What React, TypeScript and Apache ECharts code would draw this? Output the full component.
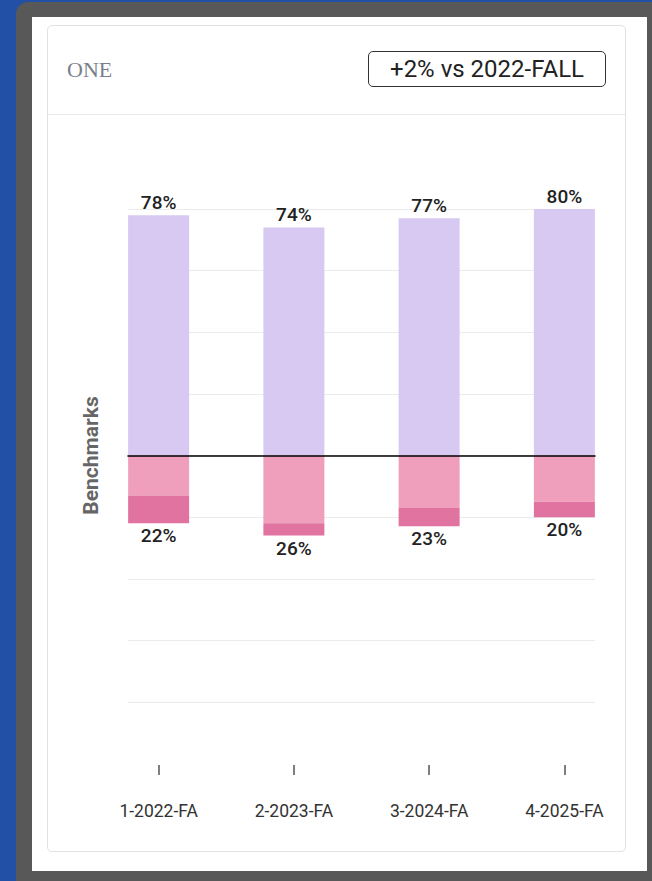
import React, { useEffect, useRef } from "react";
import * as echarts from "echarts";

const categories = ["1-2022-FA", "2-2023-FA", "3-2024-FA", "4-2025-FA"];
const meetsValues = [78, 74, 77, 80];
const approachingValues = [13, 22, 17, 15];
const belowValues = [9, 4, 6, 5];
const yMin = -80;
const yMax = 80;
const yInterval = 20;

const FONT = "Roboto, 'Noto Sans', sans-serif";

export default function App() {
  const ref = useRef<HTMLDivElement>(null);

  useEffect(() => {
    if (!ref.current) return;
    const chart = echarts.init(ref.current, null, { renderer: "svg" });
    const totals = approachingValues.map((v, i) => v + belowValues[i]);
    const labelStyle = {
      show: true,
      fontSize: 19,
      fontWeight: 500,
      color: "#222",
      fontFamily: FONT,
      distance: 3,
    };
    chart.setOption({
      animation: false,
      grid: [
        { left: 91, right: 20, top: 209, bottom: 179 },
        { left: 128, right: 57, top: 209, bottom: 179 },
      ],
      xAxis: [
        {
          type: "category",
          gridIndex: 0,
          data: categories,
          offset: 63,
          axisLine: { show: true, onZero: false, lineStyle: { color: "rgba(0,0,0,0)" } },
          axisTick: { show: true, alignWithLabel: true, length: 10, lineStyle: { color: "#555", width: 1.5 } },
          axisLabel: { margin: 37, fontSize: 17.5, color: "#333", fontFamily: FONT },
          splitLine: { show: false },
        },
        {
          type: "category",
          gridIndex: 1,
          data: categories,
          z: 5,
          axisLine: { show: true, onZero: true, lineStyle: { color: "#000", width: 1.5 } },
          axisTick: { show: false },
          axisLabel: { show: false },
          splitLine: { show: false },
        },
      ],
      yAxis: [
        {
          type: "value",
          gridIndex: 0,
          min: yMin,
          max: yMax,
          interval: yInterval,
          show: false,
        },
        {
          type: "value",
          gridIndex: 1,
          min: yMin,
          max: yMax,
          interval: yInterval,
          z: 0,
          name: "Benchmarks",
          nameLocation: "middle",
          nameGap: 27,
          nameTextStyle: { fontSize: 21, fontWeight: "bold", color: "#666", fontFamily: FONT },
          axisLine: { show: false },
          axisTick: { show: false },
          axisLabel: { show: false },
          splitLine: { show: true, lineStyle: { color: "#ebebeb", width: 1 } },
        },
      ],
      series: [
        {
          name: "Meets",
          type: "bar",
          xAxisIndex: 0,
          yAxisIndex: 0,
          stack: "total",
          barWidth: 61,
          data: meetsValues,
          itemStyle: { color: "#d7c9f1" },
          label: { ...labelStyle, position: "top", formatter: "{c}%" },
        },
        {
          name: "Approaching",
          type: "bar",
          xAxisIndex: 0,
          yAxisIndex: 0,
          stack: "total",
          barWidth: 61,
          data: approachingValues.map((v) => -v),
          itemStyle: { color: "#ef9fbb" },
        },
        {
          name: "Below",
          type: "bar",
          xAxisIndex: 0,
          yAxisIndex: 0,
          stack: "total",
          barWidth: 61,
          data: belowValues.map((v) => -v),
          itemStyle: { color: "#e0739f" },
          label: {
            ...labelStyle,
            position: "bottom",
            formatter: (p: any) => `${totals[p.dataIndex]}%`,
          },
        },
      ],
    });
    return () => chart.dispose();
  }, []);

  return (
    <div style={{ position: "absolute", left: 0, top: 0, width: 652, height: 881, background: "#2150a6", overflow: "hidden" }}>
      <div style={{ position: "absolute", left: 16, top: 2, width: 636, height: 879, background: "#585858", borderTopLeftRadius: 12 }} />
      <div style={{ position: "absolute", left: 32, top: 17, width: 615, height: 854, background: "#fff" }} />
      <div
        style={{
          position: "absolute",
          left: 47,
          top: 25,
          width: 579,
          height: 827,
          border: "1px solid #e2e2e2",
          borderRadius: 5,
          boxSizing: "border-box",
        }}
      />
      <div style={{ position: "absolute", left: 48, top: 114, width: 577, height: 1, background: "#e8e8e8" }} />
      <div
        style={{
          position: "absolute",
          left: 67,
          top: 55,
          fontFamily: "'Liberation Serif', 'DejaVu Serif', serif",
          fontSize: 22,
          color: "#7b7f8c",
          lineHeight: "30px",
        }}
      >
        ONE
      </div>
      <div
        style={{
          position: "absolute",
          left: 368,
          top: 51,
          width: 238,
          height: 36,
          border: "1px solid #333",
          borderRadius: 5,
          boxSizing: "border-box",
          display: "flex",
          alignItems: "center",
          justifyContent: "center",
          fontFamily: FONT,
          fontSize: 24,
          color: "#222",
        }}
      >
        +2% vs 2022-FALL
      </div>
      <div ref={ref} style={{ position: "absolute", left: 0, top: 0, width: 652, height: 881 }} />
    </div>
  );
}
